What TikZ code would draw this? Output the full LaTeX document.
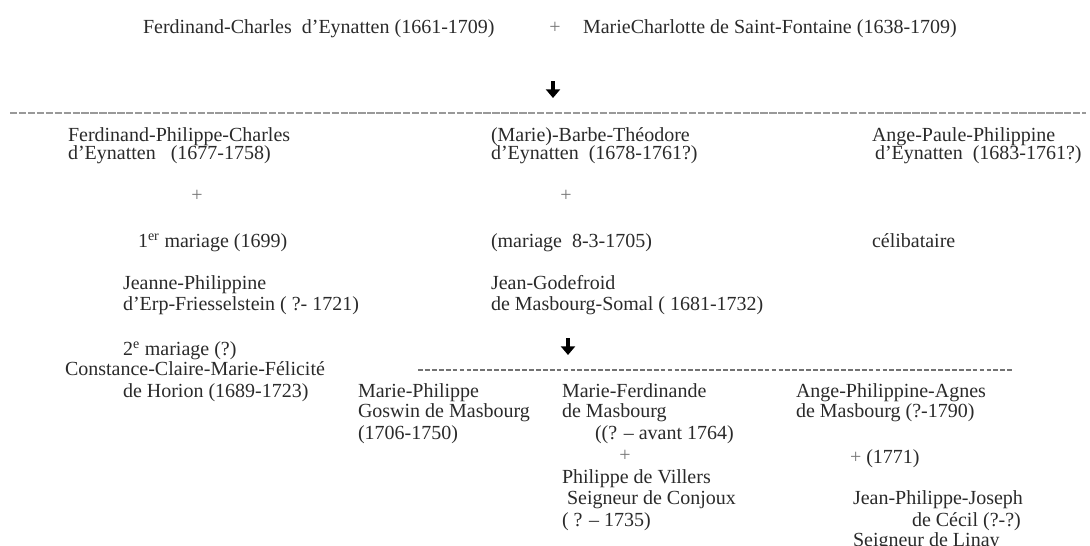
\documentclass[tikz,border=0pt]{standalone}
\usepackage{fontspec}
\setmainfont{Liberation Serif}
\usetikzlibrary{arrows.meta}
\definecolor{txt}{HTML}{2A2A2A}
\definecolor{plusc}{HTML}{777777}
\tikzset{
  lbl/.style={anchor=base west, inner sep=0pt, outer sep=0pt, text=txt, font=\fontsize{15}{18}\selectfont},
  plus/.style={anchor=base, inner sep=0pt, outer sep=0pt, text=plusc, font=\fontsize{15}{18}\selectfont},
  descarrow/.style={line width=2.8pt, -{Triangle[width=10.5pt,length=6.5pt]}, black},
  bigdash/.style={draw=black!40, line width=1.1pt, dash pattern=on 5.5pt off 1.2pt},
  smalldash/.style={draw=black!55, line width=0.9pt, dash pattern=on 3.6pt off 1.6pt}
}
\begin{document}
\begin{tikzpicture}[x=0.75pt,y=-0.75pt]
\useasboundingbox (0,0) rectangle (1090,546);
\clip (0,0) rectangle (1090,546);
% top couple
\node[lbl] (fc) at (143,33) {Ferdinand-Charles\ \ d’Eynatten (1661-1709)};
\node[plus] (p0) at (555,33) {+};
\node[lbl] (mc) at (583,33) {MarieCharlotte de Saint-Fontaine (1638-1709)};
\coordinate (a1s) at (553,81);
\coordinate (a1e) at (553,98);
\draw[descarrow] (a1s) -- (a1e);
\coordinate (d1s) at (10,113);
\coordinate (d1e) at (1086,113);
\draw[bigdash] (d1s) -- (d1e);
% column 1
\node[lbl] (c1a) at (68,141) {Ferdinand-Philippe-Charles};
\node[lbl] (c1b) at (68,159) {d’Eynatten\ \ \ (1677-1758)};
\node[plus] (p1) at (197,201) {+};
\node[lbl] (m1) at (138,247) {1\textsuperscript{er} mariage (1699)};
\node[lbl] (s1a) at (123,289) {Jeanne-Philippine};
\node[lbl] (s1b) at (123,310) {d’Erp-Friesselstein ( ?- 1721)};
\node[lbl] (m2) at (123,355) {2\textsuperscript{e} mariage (?)};
\node[lbl] (s2a) at (65,375) {Constance-Claire-Marie-Félicité};
\node[lbl] (s2b) at (123,397) {de Horion (1689-1723)};
% column 2
\node[lbl] (c2a) at (491,141) {(Marie)-Barbe-Théodore};
\node[lbl] (c2b) at (491,159) {d’Eynatten\ \ (1678-1761?)};
\node[plus] (p2) at (566,201) {+};
\node[lbl] (m3) at (491,247) {(mariage\ \ 8-3-1705)};
\node[lbl] (s3a) at (491,289) {Jean-Godefroid};
\node[lbl] (s3b) at (491,310) {de Masbourg-Somal ( 1681-1732)};
\coordinate (a2s) at (568,338);
\coordinate (a2e) at (568,355);
\draw[descarrow] (a2s) -- (a2e);
\coordinate (d2s) at (418,370);
\coordinate (d2e) at (1013,370);
\draw[smalldash] (d2s) -- (d2e);
% column 3
\node[lbl] (c3a) at (872,141) {Ange-Paule-Philippine};
\node[lbl] (c3b) at (875,159) {d’Eynatten\ \ (1683-1761?)};
\node[lbl] (cel) at (872,247) {célibataire};
% grandchildren
\node[lbl] (g1a) at (358,397) {Marie-Philippe};
\node[lbl] (g1b) at (358,417) {Goswin de Masbourg};
\node[lbl] (g1c) at (358,439) {(1706-1750)};
\node[lbl] (g2a) at (562,397) {Marie-Ferdinande};
\node[lbl] (g2b) at (562,417) {de Masbourg};
\node[lbl] (g2c) at (595,439) {((? – avant 1764)};
\node[plus] (p3) at (625,461) {+};
\node[lbl] (g2d) at (562,483) {Philippe de Villers};
\node[lbl] (g2e) at (567,504) {Seigneur de Conjoux};
\node[lbl] (g2f) at (562,526) {( ? – 1735)};
\node[lbl] (g3a) at (796,397) {Ange-Philippine-Agnes};
\node[lbl] (g3b) at (796,417) {de Masbourg (?-1790)};
\node[lbl] (g3c) at (850,463) {\textcolor{plusc}{+} (1771)};
\node[lbl] (g3d) at (853,504) {Jean-Philippe-Joseph};
\node[lbl] (g3e) at (912,526) {de Cécil (?-?)};
\node[lbl] (g3f) at (853,546) {Seigneur de Linay};
\end{tikzpicture}
\end{document}
